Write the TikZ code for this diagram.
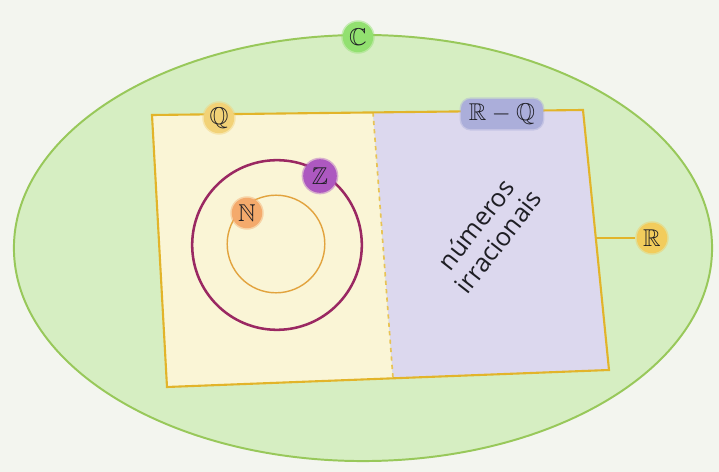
\documentclass[tikz,border=0pt]{standalone}
\usepackage{amssymb}
\usepackage{fontspec}
\newfontfamily\osans{Open Sans}
\definecolor{bgc}{HTML}{F3F5EF}
\definecolor{ellfill}{HTML}{D6EEC2}
\definecolor{elledge}{HTML}{98C85A}
\definecolor{rectedge}{HTML}{E2B42A}
\definecolor{leftfill}{HTML}{FAF5D6}
\definecolor{rightfill}{HTML}{DCD8EE}
\definecolor{zedge}{HTML}{9A2862}
\definecolor{nedge}{HTML}{E2A33E}
\definecolor{cfill}{HTML}{92E070}
\definecolor{qfill}{HTML}{F2D277}
\definecolor{zfill}{HTML}{AD58C0}
\definecolor{nfill}{HTML}{F4AA6C}
\definecolor{rfill}{HTML}{F2CC5C}
\definecolor{rqfill}{HTML}{ABAEDA}
\definecolor{ink}{HTML}{1E1E24}
\begin{document}
\begin{tikzpicture}[x=0.025cm,y=-0.025cm,
  lbl/.style={circle, inner sep=0pt, minimum size=0.76cm, font=\LARGE, text=ink,
              draw opacity=0.45, line width=2.2pt},
  setline/.style={line width=1.5pt}]
\fill[bgc] (0,0) rectangle (719,472);
\useasboundingbox (0,0) rectangle (719,472);
% complex numbers
\draw[fill=ellfill, draw=elledge, line width=1.4pt] (363,248) ellipse [x radius=8.725cm, y radius=5.325cm];
% real numbers quadrilateral
\coordinate (tl) at (152,115);
\coordinate (tr) at (583,110);
\coordinate (br) at (609,370);
\coordinate (bl) at (167,387);
\coordinate (d1) at (373,112.4);
\coordinate (d2) at (393,378.3);
\coordinate (redge) at (595.8,238);
\fill[leftfill] (tl) -- (d1) -- (d2) -- (bl) -- cycle;
\fill[rightfill] (d1) -- (tr) -- (br) -- (d2) -- cycle;
\draw[rectedge!80, line width=1.2pt, dash pattern=on 3pt off 3pt] (d1) -- (d2);
\draw[rectedge, setline, line join=miter] (tl) -- (tr) -- (br) -- (bl) -- cycle;
% Z and N circles
\draw[zedge, line width=1.8pt] (277,245) circle [radius=2.12cm];
\draw[nedge, line width=1pt] (276,244) circle [radius=1.22cm];
% labels
\node[lbl, fill=cfill, draw=cfill] (C) at (358,37) {$\mathbb{C}$};
\node[lbl, fill=qfill, draw=qfill] (Q) at (219,118) {$\mathbb{Q}$};
\node[lbl, fill=zfill, draw=zfill, minimum size=0.84cm] (Z) at (320,176) {$\mathbb{Z}$};
\node[lbl, fill=nfill, draw=nfill] (N) at (247,213) {$\mathbb{N}$};
\node[lbl, fill=rfill, draw=rfill] (R) at (652,238) {$\mathbb{R}$};
\node[rounded corners=7pt, fill=rqfill, draw=rqfill, draw opacity=0.45, line width=2pt,
      minimum width=2.05cm, minimum height=0.76cm, inner sep=1pt, font=\LARGE, text=ink]
      (RQ) at (502,114) {$\mathbb{R}-\mathbb{Q}$};
\draw[rectedge, setline] (redge) -- (R);
% text
\node[rotate=52, align=center, text=ink, font=\osans\fontsize{18}{20}\selectfont]
      (irr) at (487,233) {números\\irracionais};
\end{tikzpicture}
\end{document}
